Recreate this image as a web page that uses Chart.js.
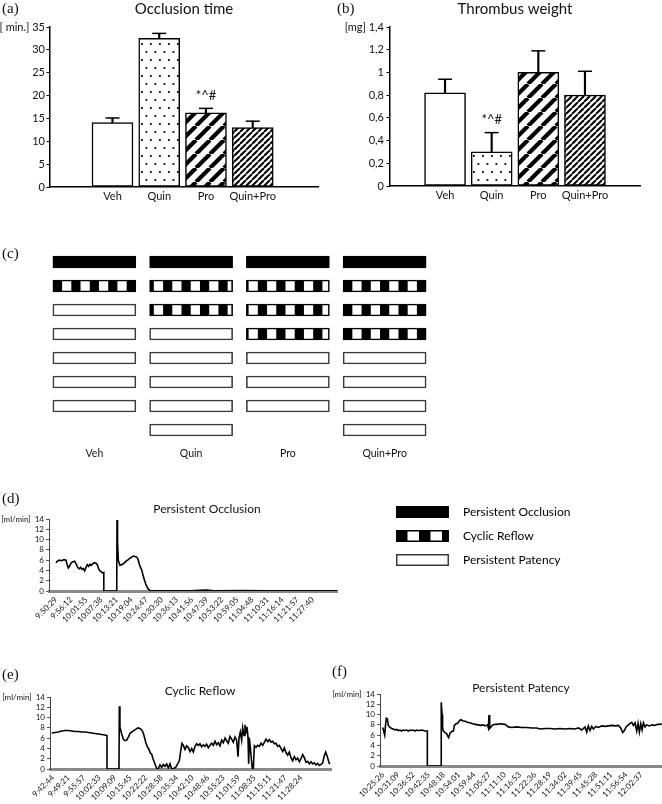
<!DOCTYPE html>
<html><head><meta charset="utf-8"><title>Occlusion, thrombus weight and flow patterns</title>
<script src="https://cdn.jsdelivr.net/npm/chart.js@4.4.1/dist/chart.umd.min.js"></script>
<style>
html,body{margin:0;padding:0;background:#fff;}
#wrap{position:relative;width:662px;height:804px;overflow:hidden;background:#fff;}
#wrap canvas{position:absolute;}
.pl{position:absolute;font-family:"Liberation Serif","DejaVu Serif",serif;font-size:15px;line-height:15px;color:#111;white-space:nowrap;}
</style></head><body>
<div id="wrap">
  <canvas id="cA" width="330" height="205" style="left:0px;top:0px"></canvas>
  <canvas id="cB" width="330" height="204" style="left:332px;top:0px"></canvas>
  <canvas id="cC" width="480" height="212" style="left:0px;top:250px"></canvas>
  <canvas id="cD" width="414" height="129" style="left:0px;top:502px"></canvas>
  <canvas id="cL" width="270" height="100" style="left:384px;top:494px"></canvas>
  <canvas id="cF" width="332" height="122" style="left:330px;top:682px"></canvas>
  <canvas id="cE" width="400" height="119" style="left:0px;top:685px"></canvas>
  <div class="pl" style="left:2px;top:1px">(a)</div>
  <div class="pl" style="left:337px;top:1px">(b)</div>
  <div class="pl" style="left:2px;top:246px">(c)</div>
  <div class="pl" style="left:2px;top:491px">(d)</div>
  <div class="pl" style="left:2px;top:667px">(e)</div>
  <div class="pl" style="left:332px;top:664px">(f)</div>
</div>
<script>
// ---------------- data ----------------
const groups = ['Veh', 'Quin', 'Pro', 'Quin+Pro'];

const occlusionMean  = [14.1, 32.5, 16.2, 13.0];
const occlusionUpper = [15.1, 33.6, 17.2, 14.4];
const occlusionMarks = ['', '', '*^#', ''];
const occlusionTicks = [0, 5, 10, 15, 20, 25, 30, 35];
const occlusionTickLabels = ['0', '5', '10', '15', '20', '25', '30', '35'];

const weightMean  = [0.82, 0.30, 1.00, 0.80];
const weightUpper = [0.94, 0.47, 1.19, 1.01];
const weightMarks = ['', '*^#', '', ''];
const weightTicks = [0, 0.2, 0.4, 0.6, 0.8, 1, 1.2, 1.4];
const weightTickLabels = ['0', '0,2', '0,4', '0,6', '0,8', '1', '1,2', '1,4'];

const outcomeKinds = ['PO', 'CR', 'PP'];
const outcomeNames = {PO: 'Persistent Occlusion', CR: 'Cyclic Reflow', PP: 'Persistent Patency'};
const outcomeVeh     = ['PO', 'CR', 'PP', 'PP', 'PP', 'PP', 'PP'];
const outcomeQuin    = ['PO', 'CR', 'CR', 'PP', 'PP', 'PP', 'PP', 'PP'];
const outcomePro     = ['PO', 'CR', 'CR', 'CR', 'PP', 'PP', 'PP'];
const outcomeQuinPro = ['PO', 'CR', 'CR', 'CR', 'PP', 'PP', 'PP', 'PP'];

const flowTicks = [0, 2, 4, 6, 8, 10, 12, 14];

// (d) persistent occlusion: minutes after first tick label, flow [ml/min]
const occlTimeLabels = ['9:50:29','9:56:12','10:01:55','10:07:38','10:13:21','10:19:04','10:24:47','10:30:30','10:36:13','10:41:56','10:47:39','10:53:22','10:59:05','11:04:48','11:10:31','11:16:14','11:21:57','11:27:40'];
const occlMinutes = [
  0, 0.5, 1.26, 2.15, 3.03, 3.79, 4.17, 4.67, 5.17, 5.81,
  6.44, 7.07, 7.7, 8.2, 8.83, 9.34, 9.84, 10.35, 10.86, 11.36,
  11.86, 12.37, 12.87, 13.38, 13.88, 14.51, 15.15, 15.65, 16.16, 16.66,
  17.17, 17.67, 18.1, 18.1, 23.0, 23.1, 23.3, 23.6, 24.2, 24.86,
  25.49, 26.13, 26.76, 27.39, 28.02, 28.65, 29.28, 29.91, 30.54, 31.05,
  31.55, 31.93, 32.44, 32.94, 33.45, 33.95, 34.46, 34.96, 35.59, 36.6,
  45, 52, 57, 60, 70, 80, 90, 100, 106.4];
const occlFlow = [
  5.5, 5.8, 6.0, 5.9, 6.1, 6.0, 5.2, 4.5, 4.9, 5.5,
  5.7, 5.8, 5.2, 4.6, 4.3, 4.6, 4.2, 4.4, 3.9, 4.6,
  5.1, 4.8, 5.2, 5.0, 5.3, 5.5, 5.4, 5.1, 4.3, 3.9,
  3.7, 3.5, 3.6, 0, 0, 13.8, 9.5, 6.0, 5.0, 5.1,
  5.3, 5.6, 5.9, 6.1, 6.4, 6.6, 6.8, 6.7, 6.6, 6.2,
  5.2, 4.7, 4.1, 3.1, 2.2, 1.4, 0.8, 0.35, 0.1, 0.03,
  0.05, 0.08, 0.2, 0.05, 0.08, 0.03, 0.05, 0.04, 0.03];

// (e) cyclic reflow
const cyclicTimeLabels = ['9:42:44','9:49:21','9:55:57','10:02:33','10:09:09','10:15:45','10:22:22','10:28:58','10:35:34','10:42:10','10:48:46','10:55:23','11:01:59','11:08:35','11:15:11','11:21:47','11:28:24'];
const cyclicMinutes = [
  -0.57, 0.85, 2.27, 3.69, 5.11, 6.53, 7.95, 9.37, 10.79, 12.21,
  13.63, 15.05, 16.47, 17.89, 19.31, 20.73, 22.15, 23.0, 23.0, 28.1,
  28.25, 28.5, 29.25, 29.95, 30.66, 31.37, 32.08, 32.79, 33.5, 34.21,
  35.2, 36.2, 37.05, 37.76, 38.47, 39.04, 39.6, 40.32, 40.89, 41.45,
  42.02, 42.59, 43.16, 43.73, 44.29, 44.86, 45.57, 46.28, 46.99, 47.7,
  48.41, 49.12, 49.83, 50.54, 51.25, 52.24, 53.1, 53.8, 54.37, 54.94,
  55.51, 56.22, 56.93, 57.64, 58.35, 59.06, 59.77, 60.48, 61.19, 61.9,
  62.61, 63.32, 64.03, 64.74, 65.45, 66.16, 66.87, 67.58, 68.29, 68.99,
  69.7, 70.41, 71.12, 71.83, 72.54, 73.25, 73.96, 74.67, 75.38, 76.09,
  76.8, 77.51, 78.22, 78.79, 79.22, 79.78, 80.35, 80.78, 81.35, 81.77,
  82.2, 82.62, 83.05, 83.33, 83.62, 84.04, 84.47, 84.89, 85.32, 85.75,
  86.46, 87.17, 87.88, 88.59, 89.3, 90.01, 90.72, 91.43, 92.14, 92.84,
  93.55, 94.26, 94.97, 95.68, 96.39, 97.1, 97.81, 98.52, 99.23, 99.94,
  100.65, 101.36, 102.07, 102.78, 103.49, 104.2, 104.91, 105.62, 106.33, 107.04,
  107.75, 108.46, 109.17, 109.88, 110.59, 111.3, 112.01, 112.72, 113.43, 114.14,
  114.85, 115.56, 116.13, 116.84, 117.55, 117.98];
const cyclicFlow = [
  7.0, 7.1, 7.2, 7.4, 7.5, 7.5, 7.4, 7.3, 7.3, 7.2,
  7.2, 7.1, 7.0, 6.9, 6.8, 6.7, 6.6, 6.5, 0, 0,
  12.2, 8.2, 6.8, 5.8, 5.5, 5.6, 6.2, 6.9, 7.2, 7.4,
  7.7, 8.0, 7.9, 7.6, 7.0, 6.0, 5.0, 4.2, 3.8, 3.1,
  2.9, 2.0, 1.3, 0.6, 0.0, 0.1, 0.8, 0.3, 0.9, 0.5,
  1.0, 0.2, 1.0, 0.0, 0.1, 0.3, 1.0, 1.6, 3.5, 5.0,
  4.6, 3.8, 4.5, 4.2, 3.4, 4.0, 3.3, 4.4, 4.9, 4.6,
  4.9, 4.3, 4.7, 4.4, 4.8, 4.1, 4.6, 5.0, 4.6, 5.4,
  4.7, 5.1, 4.5, 5.6, 5.1, 6.0, 5.5, 5.0, 6.3, 5.8,
  5.2, 6.2, 5.6, 2.4, 6.0, 7.2, 5.6, 8.0, 6.5, 8.6,
  7.0, 8.2, 6.2, 1.0, 6.0, 4.2, 2.0, 0.0, 0.0, 4.5,
  4.2, 4.6, 4.4, 5.0, 4.6, 5.2, 5.8, 5.3, 5.7, 5.2,
  5.4, 4.9, 5.0, 4.4, 4.6, 4.0, 3.4, 4.1, 3.2, 2.7,
  3.3, 2.2, 1.6, 2.4, 1.8, 2.1, 1.4, 2.0, 2.8, 2.2,
  1.3, 1.5, 1.0, 1.4, 1.0, 1.2, 0.8, 1.1, 0.7, 0.9,
  1.2, 2.6, 3.3, 2.4, 1.2, 1.0];

// (f) persistent patency
const patencyTimeLabels = ['10:25:26','10:31:09','10:36:52','10:42:35','10:48:18','10:54:01','10:59:44','11:05:27','11:11:10','11:16:53','11:22:36','11:28:19','11:34:02','11:39:45','11:45:28','11:51:11','11:56:54','12:02:37'];
const patencyMinutes = [
  -0.13, 0.25, 0.63, 0.88, 1.25, 1.63, 2.0, 2.63, 3.26, 3.89,
  4.51, 5.14, 5.77, 6.39, 7.02, 7.65, 8.27, 8.9, 9.53, 10.15,
  10.78, 11.41, 12.03, 12.66, 13.29, 13.92, 14.54, 15.17, 15.8, 16.42,
  16.67, 16.67, 21.81, 21.9, 22.2, 22.4, 22.69, 23.32, 23.94, 24.32,
  24.7, 25.2, 25.82, 26.45, 26.83, 27.45, 28.08, 28.71, 29.21, 29.96,
  30.84, 31.72, 32.72, 33.72, 34.72, 35.73, 36.73, 37.73, 38.48, 39.24,
  39.61, 39.86, 40.12, 40.62, 41.25, 42.12, 42.75, 44.0, 45.88, 47.13,
  48.39, 50.27, 52.15, 54.03, 55.91, 57.79, 59.04, 60.92, 62.81, 64.69,
  66.57, 68.45, 70.33, 72.21, 73.46, 74.71, 75.97, 76.59, 77.22, 77.84,
  78.47, 79.1, 80.1, 81.1, 82.23, 83.48, 84.74, 85.99, 87.25, 88.5,
  89.38, 90.13, 90.76, 91.39, 92.01, 92.89, 93.52, 94.15, 94.77, 95.4,
  95.9, 96.4, 96.9, 97.41, 97.91, 98.54, 99.16, 100.17, 101.17, 102.17,
  103.17, 104.18, 104.8];
const patencyFlow = [
  7.5, 6.8, 6.0, 7.6, 9.3, 9.2, 7.9, 7.5, 7.3, 7.2,
  7.0, 7.1, 6.9, 7.0, 6.8, 7.0, 6.9, 7.0, 6.8, 7.0,
  6.9, 7.0, 6.8, 7.0, 6.9, 6.9, 7.0, 6.9, 6.8, 6.8,
  6.8, 0, 0, 12.4, 10.0, 7.5, 6.8, 6.5, 6.3, 5.8,
  5.5, 6.4, 6.7, 6.8, 7.9, 8.2, 8.3, 8.8, 9.0, 8.8,
  8.7, 8.5, 8.4, 8.2, 8.1, 8.0, 7.9, 8.0, 7.8, 8.0,
  7.4, 9.9, 7.3, 7.6, 8.0, 8.1, 8.1, 8.2, 8.1, 7.6,
  7.5, 7.6, 7.5, 7.5, 7.4, 7.4, 7.2, 7.3, 7.3, 7.2,
  7.3, 7.2, 7.3, 7.2, 7.4, 7.0, 7.6, 6.6, 7.8, 6.9,
  7.7, 7.2, 7.7, 7.5, 7.8, 7.7, 7.8, 7.9, 7.8, 7.9,
  7.4, 6.5, 6.9, 7.6, 7.9, 8.3, 8.5, 7.9, 8.4, 6.8,
  8.3, 6.6, 8.2, 7.0, 8.4, 7.6, 8.0, 7.8, 8.0, 7.9,
  8.1, 8.1, 8.2];

// ---------------- styling helpers ----------------
Chart.defaults.font.family = "Lato, 'Open Sans', sans-serif";
Chart.defaults.color = '#111';
Chart.defaults.animation = false;

function tile(w, h, draw) {
  const c = document.createElement('canvas');
  c.width = w; c.height = h;
  const g = c.getContext('2d');
  g.fillStyle = '#fff'; g.fillRect(0, 0, w, h);
  draw(g);
  return c;
}
function stripeTile(p, w) {
  return tile(p, p, g => {
    g.strokeStyle = '#000'; g.lineWidth = w; g.beginPath();
    for (let k = -1; k <= 1; k++) { g.moveTo(k * p, p); g.lineTo(k * p + p, 0); }
    g.stroke();
  });
}
const pctx = document.createElement('canvas').getContext('2d');
const dotPattern = pctx.createPattern(tile(9, 16, g => {
  g.fillStyle = '#000'; g.fillRect(1.5, 3, 1.8, 1.8); g.fillRect(6, 11, 1.8, 1.8);
}), 'repeat');
const proPattern = pctx.createPattern(stripeTile(14, 4.2), 'repeat');
const quinProPattern = pctx.createPattern(stripeTile(6, 2), 'repeat');
const groupFills = ['#ffffff', dotPattern, proPattern, quinProPattern];

const marksPlugin = {
  id: 'marks',
  afterDatasetsDraw(chart, args, opts) {
    const ctx = chart.ctx, xs = chart.scales.x, ys = chart.scales.y;
    ctx.save();
    ctx.fillStyle = '#111';
    ctx.font = "13px Lato, 'Open Sans', sans-serif";
    ctx.textAlign = 'center';
    ctx.textBaseline = 'middle';
    opts.labels.forEach((t, i) => {
      if (!t) return;
      ctx.fillText(t, xs.getPixelForValue(i), ys.getPixelForValue(opts.upper[i]) - 13);
    });
    ctx.restore();
  }
};

function barPanel(id, o) {
  return new Chart(document.getElementById(id), {
    type: 'bar',
    data: { datasets: [
      { data: o.mean.map((v, i) => ({x: i, y: v})), backgroundColor: groupFills, borderColor: '#000',
        borderWidth: 1.5, borderSkipped: false, barThickness: 41, grouped: false },
      { data: o.mean.map((v, i) => ({x: i, y: [v, o.upper[i]]})), backgroundColor: '#000',
        borderWidth: 0, barThickness: 1.5, grouped: false },
      { type: 'line', data: o.upper.map((v, i) => ({x: i, y: v})), showLine: false, pointStyle: 'line',
        pointRadius: 7, pointHoverRadius: 7, pointBorderWidth: 1.5, pointBorderColor: '#000', pointBackgroundColor: '#000' }
    ]},
    options: {
      responsive: false, devicePixelRatio: 1, animation: false, events: [],
      layout: { padding: { left: 0, right: o.padRight, top: 0, bottom: 0 } },
      plugins: {
        legend: { display: false }, tooltip: { enabled: false },
        title: { display: true, text: o.title, fullSize: false, color: '#111',
                 font: { size: 15, weight: 'normal' }, padding: { top: 0, bottom: 9 } },
        marks: { labels: o.marks, upper: o.upper }
      },
      scales: {
        x: { type: 'linear', min: o.xMin, max: o.xMax,
             afterBuildTicks: s => { s.ticks = groups.map((g, i) => ({value: i})); },
             afterFit: s => { s.height = o.xHeight; },
             ticks: { autoSkip: false, maxRotation: 0, padding: 3, font: { size: 11 }, color: '#111',
                      callback: (v, i) => groups[i] },
             grid: { display: false, drawTicks: false },
             border: { display: true, color: '#000', width: 1.5 } },
        y: { type: 'linear', min: 0, max: o.ticks[o.ticks.length - 1],
             afterBuildTicks: s => { s.ticks = o.ticks.map(v => ({value: v})); },
             afterFit: s => { s.width = o.yWidth; },
             ticks: { autoSkip: false, padding: o.tickPad, font: { size: 11 }, color: '#111',
                      callback: (v, i) => i === o.ticks.length - 1 ? o.unit + ' ' + o.tickLabels[i] : o.tickLabels[i] },
             grid: { display: true, drawOnChartArea: false, drawTicks: true, tickLength: 3.5, color: '#000', lineWidth: 1 },
             border: { display: true, color: '#000', width: 1.5 } }
      }
    },
    plugins: [marksPlugin]
  });
}

barPanel('cA', { title: 'Occlusion time', mean: occlusionMean, upper: occlusionUpper, marks: occlusionMarks,
  ticks: occlusionTicks, tickLabels: occlusionTickLabels, unit: '[ min.]', tickPad: 1.5,
  xMin: -0.62, xMax: 3.68, yWidth: 50, padRight: 12, xHeight: 18 });
barPanel('cB', { title: 'Thrombus weight', mean: weightMean, upper: weightUpper, marks: weightMarks,
  ticks: weightTicks, tickLabels: weightTickLabels, unit: '[mg]', tickPad: 2.5,
  xMin: -0.51, xMax: 3.51, yWidth: 58, padRight: 22, xHeight: 18 });

// ---------------- (c) outcome bars ----------------
const outcomeGroups = [outcomeVeh, outcomeQuin, outcomePro, outcomeQuinPro];
const slots = Math.max(...outcomeGroups.map(a => a.length));
const crPhase = [0, 5, 7, 0];
const crTile = tile(18, 1, g => { g.fillStyle = '#000'; g.fillRect(0, 0, 9, 1); });
function outcomeFill(ctx, row) {
  if (ctx.type !== 'data') return '#fff';
  const kind = outcomeGroups[ctx.dataIndex][row];
  if (kind === 'PO') return '#000';
  if (kind !== 'CR') return '#fff';
  const gi = ctx.dataIndex;
  const left = ctx.chart.scales.x.getPixelForValue(gi) - 41.5 - crPhase[gi];
  const p = ctx.chart.ctx.createPattern(crTile, 'repeat');
  p.setTransform(new DOMMatrix([83 / 81, 0, 0, 1, left, 0]));
  return p;
}
const outcomeDatasets = Array.from({length: slots}, (_, row) => ({
  data: outcomeGroups.map(a => row < a.length ? [row - 0.25, row + 0.25] : null),
  backgroundColor: ctx => outcomeFill(ctx, row),
  borderColor: ctx => (ctx.type === 'data' && outcomeGroups[ctx.dataIndex][row] === 'PP') ? '#3a3a3a' : '#000',
  borderWidth: 1.6, borderSkipped: false, barThickness: 83, grouped: false
}));
new Chart(document.getElementById('cC'), {
  type: 'bar',
  data: { labels: groups, datasets: outcomeDatasets },
  options: {
    responsive: false, devicePixelRatio: 1, animation: false, events: [],
    layout: { padding: { left: 46, right: 47, top: 0, bottom: 0 } },
    plugins: { legend: { display: false }, tooltip: { enabled: false } },
    scales: {
      x: { type: 'category', offset: true, grid: { display: false, drawTicks: false }, border: { display: false },
           ticks: { padding: 5, font: { size: 10.5 }, color: '#111' }, afterFit: s => { s.height = 20; } },
      y: { type: 'linear', reverse: true, min: -0.5, max: slots - 0.5, display: false }
    }
  }
});

// ---------------- legend ----------------
function swatch(kind) {
  const W = 53, H = 12;
  const c = document.createElement('canvas'); c.width = 61; c.height = H;
  const g = c.getContext('2d');
  g.fillStyle = kind === 'PO' ? '#000' : '#fff';
  g.fillRect(0, 0, W, H);
  if (kind === 'CR') {
    g.fillStyle = '#000';
    for (let s = 0; s * 11.5 < W; s += 2) g.fillRect(s * 11.5, 0, Math.min(11.5, W - s * 11.5), H);
  }
  g.strokeStyle = kind === 'PP' ? '#3a3a3a' : '#000';
  g.lineWidth = 1.5;
  g.strokeRect(0.75, 0.75, W - 1.5, H - 1.5);
  return c;
}
new Chart(document.getElementById('cL'), {
  type: 'bar',
  data: { labels: [], datasets: [] },
  options: {
    responsive: false, devicePixelRatio: 1, animation: false, events: [],
    scales: { x: { display: false }, y: { display: false } },
    plugins: {
      tooltip: { enabled: false },
      legend: { display: true, position: 'left', align: 'start', maxWidth: 270,
        labels: { usePointStyle: true, pointStyleWidth: 61, boxHeight: 12, padding: 12, color: '#111',
          font: { size: 12 },
          generateLabels: () => outcomeKinds.map(k => ({ text: outcomeNames[k], pointStyle: swatch(k),
            fillStyle: '#000', strokeStyle: '#000', lineWidth: 0, hidden: false })) } }
    }
  }
});

// ---------------- flow traces ----------------
function toSec(t) { const [h, m, s] = t.split(':').map(Number); return h * 3600 + m * 60 + s; }
function flowPanel(id, o) {
  const t0 = toSec(o.labels[0]);
  const tickMin = o.labels.map(l => (toSec(l) - t0) / 60);
  const scales = {
    x: { type: 'linear', min: o.xMin, max: o.xMax,
         afterBuildTicks: s => { s.ticks = tickMin.map(v => ({value: v})); },
         afterFit: s => { s.height = o.xHeight; },
         ticks: { autoSkip: false, minRotation: 45, maxRotation: 45, padding: 4, font: { size: 8 }, color: '#111',
                  callback: (v, i) => o.labels[i] },
         grid: { display: false, drawTicks: false },
         border: { display: true, color: '#8a8a8a', width: 3 } },
    y: { type: 'linear', min: 0, max: 14,
         afterBuildTicks: s => { s.ticks = flowTicks.map(v => ({value: v})); },
         afterFit: s => { s.width = o.yWidth; },
         ticks: { autoSkip: false, padding: 2, font: { size: 8 }, color: '#111',
                  callback: (v, i) => i === flowTicks.length - 1 ? '[ml/min]  ' + v : String(v) },
         grid: { display: true, drawOnChartArea: false, drawTicks: true, tickLength: 3, color: '#555' },
         border: { display: true, color: '#444', width: 1 } }
  };
  if (o.spacer) {
    scales.spacer = { type: 'linear', position: 'right', min: 0, max: 1, ticks: { display: false },
      grid: { display: false, drawTicks: false }, border: { display: false }, afterFit: s => { s.width = o.spacer; } };
  }
  return new Chart(document.getElementById(id), {
    type: 'line',
    data: { datasets: [{ data: o.minutes.map((m, i) => ({x: m, y: o.flow[i]})), borderColor: '#000',
      borderWidth: 1.6, pointRadius: 0, tension: 0, fill: false }] },
    options: {
      responsive: false, devicePixelRatio: 1, animation: false, events: [],
      layout: { padding: 0 },
      plugins: { legend: { display: false }, tooltip: { enabled: false },
        title: { display: true, text: o.title, fullSize: o.fullSize, color: '#111',
                 font: { size: 12, weight: 'normal', lineHeight: o.titleLH }, padding: { top: 0, bottom: o.titlePad } } },
      scales
    }
  });
}
flowPanel('cD', { title: 'Persistent Occlusion', labels: occlTimeLabels, minutes: occlMinutes, flow: occlFlow,
  xMin: -2.65, xMax: 106.4, yWidth: 49, spacer: 77, fullSize: true, titleLH: 1.2, titlePad: 2.6, xHeight: 40 });
flowPanel('cE', { title: 'Cyclic Reflow', labels: cyclicTimeLabels, minutes: cyclicMinutes, flow: cyclicFlow,
  xMin: -1.28, xMax: 118.4, yWidth: 50, spacer: 69, fullSize: true, titleLH: 1.0, titlePad: 0, xHeight: 35 });
flowPanel('cF', { title: 'Persistent Patency', labels: patencyTimeLabels, minutes: patencyMinutes, flow: patencyFlow,
  xMin: -1.13, xMax: 104.9, yWidth: 50, spacer: 0, fullSize: false, titleLH: 1.0, titlePad: 0, xHeight: 38 });
</script>
</body></html>
